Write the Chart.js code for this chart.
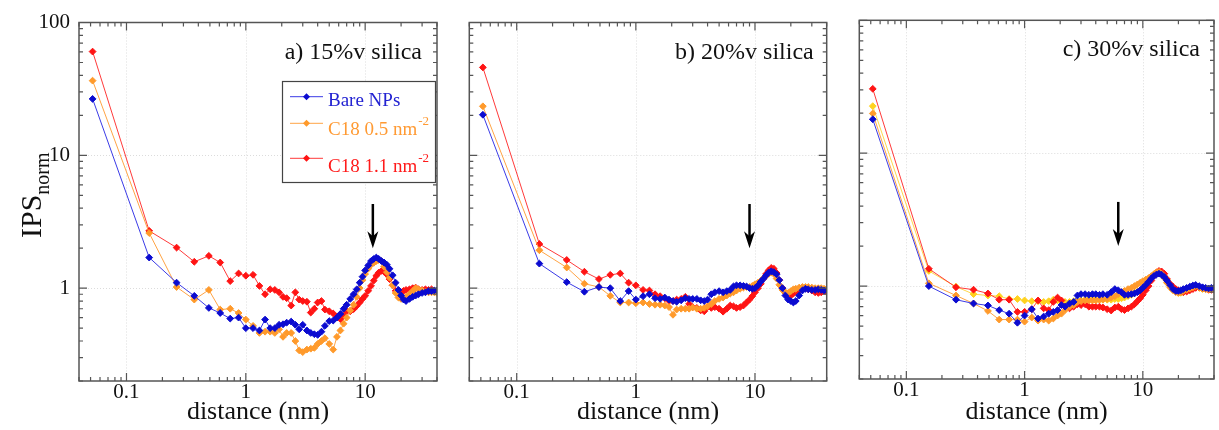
<!DOCTYPE html>
<html>
<head>
<meta charset="utf-8">
<script src="https://cdn.jsdelivr.net/npm/chart.js@4.4.1/dist/chart.umd.min.js"></script>
<style>
  html, body { margin: 0; padding: 0; background: #fff; }
  #wrap { position: relative; width: 1219px; height: 430px; overflow: hidden; }
  canvas { position: absolute; top: 0; }
</style>
</head>
<body>
<div id="wrap">
  <canvas id="panelA" width="445" height="430" style="left:0px"></canvas>
  <canvas id="panelB" width="390" height="430" style="left:445px"></canvas>
  <canvas id="panelC" width="384" height="430" style="left:835px"></canvas>
</div>
<script>
// distance grid (nm), shared by every series
const distance = [0.052, 0.155, 0.263, 0.37, 0.49, 0.61, 0.74, 0.87,
  1.0, 1.15, 1.3, 1.45, 1.6, 1.75, 1.9,
  2.05, 2.2, 2.4, 2.6, 2.8,
  3.0, 3.25, 3.5, 3.75,
  4.0, 4.3, 4.6,
  5.0, 5.4, 5.8,
  6.2, 6.6, 7.0, 7.5,
  8.0, 8.5, 9.0, 9.5,
  10, 10.6, 11.2, 11.8, 12.4, 13, 13.7, 14.4, 15.2,
  16, 17, 18, 19, 20, 21, 22,
  23.5, 25, 26.5, 28,
  30, 32, 34, 36, 38, 40];

// a) 15%v silica
const aBare = [26.6, 1.70, 1.10, 0.875, 0.71, 0.65, 0.59, 0.60,
  0.50, 0.50, 0.48, 0.58, 0.50, 0.50, 0.53,
  0.535, 0.55, 0.56, 0.53, 0.49,
  0.53, 0.48, 0.46, 0.45,
  0.445, 0.47, 0.52,
  0.565, 0.57, 0.60,
  0.64, 0.70, 0.75, 0.83,
  0.90, 0.98, 1.10, 1.22,
  1.36, 1.48, 1.60, 1.66, 1.70, 1.66, 1.60, 1.56, 1.50,
  1.40, 1.25, 1.10, 0.97, 0.88, 0.82, 0.80,
  0.83, 0.86, 0.88, 0.90,
  0.92, 0.93, 0.95, 0.95, 0.96, 0.96];
const aC18low = [36.5, 2.60, 1.02, 0.82, 0.97, 0.69, 0.70, 0.65,
  0.58, 0.52, 0.46, 0.47, 0.47, 0.46, 0.49,
  0.43, 0.46, 0.46, 0.40, 0.34,
  0.33, 0.345, 0.35, 0.355,
  0.38, 0.40, 0.42,
  0.38, 0.345, 0.43,
  0.48, 0.54, 0.60, 0.68,
  0.75, 0.86, 1.0, 1.15,
  1.28, 1.40, 1.50, 1.55, 1.60, 1.63, 1.60, 1.45, 1.32,
  1.20, 1.05, 0.92, 0.85, 0.83, 0.84, 0.86,
  0.90, 0.95, 1.0, 0.98,
  0.96, 0.94, 0.93, 0.93, 0.93, 0.92];
const aC18high = [60.4, 2.70, 2.02, 1.58, 1.75, 1.56, 1.13, 1.29,
  1.24, 1.26, 1.04, 0.90, 0.98, 0.97, 0.93,
  0.86, 0.84, 0.74, 0.93, 0.82,
  0.80, 0.79, 0.655, 0.70,
  0.78, 0.80, 0.69,
  0.67, 0.645, 0.61,
  0.585, 0.62, 0.67, 0.67,
  0.695, 0.735, 0.78, 0.83,
  0.875, 0.955, 1.04, 1.14, 1.24, 1.31, 1.35, 1.33, 1.27,
  1.17, 1.05, 0.955, 0.93, 0.93, 0.955, 0.97,
  0.98, 1.0, 1.01, 0.98,
  0.97, 0.98, 0.97, 0.98, 0.955, 0.94];

// b) 20%v silica
const bBare = [20.2, 1.53, 1.11, 0.94, 1.02, 1.0, 0.80, 0.95,
  0.82, 0.87, 0.90, 0.84, 0.83, 0.85, 0.82,
  0.80, 0.79, 0.81, 0.84, 0.83,
  0.83, 0.83, 0.81, 0.80,
  0.82, 0.90, 0.93,
  0.95, 0.93, 0.95,
  0.97, 1.03, 1.05, 1.05,
  1.04, 1.03, 1.0, 0.99,
  1.0, 1.05, 1.12, 1.18, 1.25, 1.31, 1.34, 1.32, 1.27,
  1.15, 1.0, 0.88, 0.82, 0.80, 0.78, 0.80,
  0.88, 0.96, 0.99, 0.98,
  0.97, 0.97, 0.98, 0.97, 0.96, 0.96];
const bC18low = [23.4, 1.93, 1.43, 1.08, 1.02, 0.875, 0.78, 0.78,
  0.77, 0.78, 0.76, 0.75, 0.75, 0.74, 0.72,
  0.63, 0.69, 0.70, 0.70, 0.70,
  0.715, 0.70, 0.70, 0.71,
  0.73, 0.76, 0.80,
  0.83, 0.85, 0.88,
  0.91, 0.93, 0.96, 0.99,
  1.01, 1.02, 1.02, 1.04,
  1.07, 1.10, 1.14, 1.19, 1.24, 1.28, 1.31, 1.28, 1.18,
  1.06, 0.97, 0.93, 0.92, 0.95, 0.98, 0.99,
  1.01, 1.02, 1.02, 1.02,
  1.01, 1.0, 1.0, 1.0, 0.99, 0.99];
const bC18high = [45.9, 2.15, 1.63, 1.33, 1.17, 1.26, 1.29, 1.10,
  1.05, 0.97, 0.96, 0.90, 0.87, 0.84, 0.80,
  0.80, 0.82, 0.83, 0.86, 0.76,
  0.72, 0.71, 0.68, 0.67,
  0.72, 0.71, 0.72,
  0.70, 0.665, 0.70,
  0.74, 0.73, 0.71, 0.72,
  0.74, 0.78, 0.82, 0.87,
  0.93, 1.0, 1.08, 1.18, 1.28, 1.36, 1.42, 1.40, 1.30,
  1.15, 1.0, 0.92, 0.88, 0.88, 0.91, 0.94,
  0.96, 0.99, 1.0, 0.98,
  0.96, 0.93, 0.92, 0.93, 0.95, 0.94];

// c) 30%v silica
const cBare = [18.0, 1.0, 0.79, 0.74, 0.715, 0.66, 0.62, 0.53,
  0.60, 0.67, 0.57, 0.59, 0.62, 0.64, 0.66,
  0.72, 0.70, 0.74, 0.76, 0.85,
  0.87, 0.87, 0.86, 0.87,
  0.87, 0.86, 0.87,
  0.86, 0.90, 0.95,
  0.93, 0.90, 0.86, 0.86,
  0.87, 0.88, 0.90, 0.93,
  0.97, 1.02, 1.08, 1.14, 1.19, 1.22, 1.24, 1.22, 1.17,
  1.10, 1.02, 0.95, 0.92, 0.92, 0.93, 0.95,
  0.97, 0.99, 1.01, 1.02,
  1.0, 0.98, 0.97, 0.96, 0.97, 0.97];
const cC18low = [19.9, 1.05, 0.85, 0.74, 0.65, 0.56, 0.56, 0.56,
  0.54, 0.58, 0.55, 0.56, 0.55, 0.57, 0.60,
  0.62, 0.66, 0.70, 0.72, 0.76,
  0.77, 0.78, 0.78, 0.78,
  0.78, 0.79, 0.79,
  0.80, 0.82, 0.84,
  0.87, 0.90, 0.92, 0.95,
  0.97, 1.0, 1.03, 1.06,
  1.09, 1.12, 1.15, 1.19, 1.23, 1.27, 1.28, 1.24, 1.15,
  1.06, 0.98, 0.93, 0.90, 0.89, 0.90, 0.92,
  0.94, 0.96, 0.98, 1.0,
  0.98, 0.96, 0.95, 0.95, 0.95, 0.94];
const cC18high = [30.5, 1.35, 0.98, 0.94, 0.88, 0.79, 0.79, 0.64,
  0.64, 0.67, 0.78, 0.68, 0.66, 0.76, 0.82,
  0.78, 0.70, 0.68, 0.70, 0.73,
  0.72, 0.73, 0.70, 0.70,
  0.70, 0.70, 0.69,
  0.67, 0.655, 0.69,
  0.70, 0.67, 0.66, 0.68,
  0.70, 0.73, 0.77, 0.81,
  0.86, 0.93, 1.0, 1.10, 1.19, 1.26, 1.30, 1.29, 1.24,
  1.13, 1.04, 0.99, 0.95, 0.93, 0.91, 0.90,
  0.91, 0.93, 0.95, 0.97,
  0.98, 0.96, 0.955, 0.94, 0.94, 0.94];
const cExtra = [22.6, 1.30, 0.99, 0.87, 0.85, 0.84, 0.80, 0.80,
  0.78, 0.77, 0.77, 0.76, 0.77, 0.79, 0.78,
  0.77, 0.76, 0.76, 0.77, 0.77,
  0.78, 0.79, 0.79, 0.79,
  0.79, 0.79, 0.79,
  0.79, 0.79, 0.80,
  0.80, 0.81, 0.82, 0.84,
  0.86, 0.89, 0.91, 0.93,
  0.95, 1.0, 1.07, 1.14, 1.21, 1.25, 1.27, 1.25, 1.19,
  1.11, 1.03, 0.95, 0.91, 0.89, 0.89, 0.90,
  0.93, 0.96, 0.98, 0.99,
  0.97, 0.95, 0.95, 0.94, 0.95, 0.955];

const panelTitles = ["a) 15%v silica", "b) 20%v silica", "c) 30%v silica"];
const legendNames = ["Bare NPs", "C18 0.5 nm", "C18 1.1 nm"];
const legendSup = ["", "-2", "-2"];
const xTickLabels = [0.1, 1, 10];
const xMinorTicks = [0.04, 0.05, 0.06, 0.07, 0.08, 0.09, 0.2, 0.3, 0.4, 0.5, 0.6, 0.7, 0.8, 0.9,
  2, 3, 4, 5, 6, 7, 8, 9, 20, 30, 40];
const yTickLabels = [1, 10, 100];
const yMinorTicks = [0.2, 0.3, 0.4, 0.5, 0.6, 0.7, 0.8, 0.9, 2, 3, 4, 5, 6, 7, 8, 9,
  20, 30, 40, 50, 60, 70, 80, 90];
const arrowAt = [11.6, 9.0, 6.2];   // x of the arrow in each panel
const arrowFrom = 4.3, arrowTo = 2.0;

const SERIF = '"Liberation Serif", "Times New Roman", serif';
const COLORS = {
  blue: { line: "#3b3be6", marker: "#0b0bd0", text: "#2323d2" },
  orange: { line: "#ffa445", marker: "#ff9a2b", text: "#ff9a33" },
  red: { line: "#ff3a3a", marker: "#ff1414", text: "#ff1a1a" },
  yellow: { line: "#ffd84d", marker: "#ffd21f", text: "#ffd21f" },
};

function makeDataset(values, c) {
  return {
    data: distance.map((d, i) => ({ x: d, y: values[i] })),
    borderColor: c.line,
    backgroundColor: c.marker,
    pointBackgroundColor: c.marker,
    pointBorderColor: c.marker,
    borderWidth: 1,
    pointStyle: "rectRot",
    pointRadius: 3.4,
    pointBorderWidth: 1,
    tension: 0,
  };
}

function decorPlugin(cfg) {
  return {
    id: "decor" + cfg.index,
    beforeDatasetsDraw(chart) {
      const { ctx, chartArea: ca, scales: { x, y } } = chart;
      ctx.save();
      ctx.strokeStyle = "#dcdcdc";
      ctx.lineWidth = 1;
      ctx.setLineDash([1, 2]);
      xTickLabels.forEach((v) => {
        const px = Math.round(x.getPixelForValue(v)) + 0.5;
        ctx.beginPath(); ctx.moveTo(px, ca.top); ctx.lineTo(px, ca.bottom); ctx.stroke();
      });
      [1, 10].forEach((v) => {
        const py = Math.round(y.getPixelForValue(v)) + 0.5;
        ctx.beginPath(); ctx.moveTo(ca.left, py); ctx.lineTo(ca.right, py); ctx.stroke();
      });
      ctx.restore();
    },
    afterDatasetsDraw(chart) {
      const { ctx, chartArea: ca, scales: { x, y } } = chart;
      ctx.save();
      // frame
      ctx.strokeStyle = "#555";
      ctx.lineWidth = 1.5;
      ctx.strokeRect(ca.left, ca.top, ca.right - ca.left, ca.bottom - ca.top);
      // inward ticks on all four sides
      ctx.lineWidth = 1.2;
      const xt = (v, len) => {
        const px = x.getPixelForValue(v);
        ctx.beginPath();
        ctx.moveTo(px, ca.bottom); ctx.lineTo(px, ca.bottom - len);
        ctx.moveTo(px, ca.top); ctx.lineTo(px, ca.top + len);
        ctx.stroke();
      };
      const yt = (v, len) => {
        const py = y.getPixelForValue(v);
        ctx.beginPath();
        ctx.moveTo(ca.left, py); ctx.lineTo(ca.left + len, py);
        ctx.moveTo(ca.right, py); ctx.lineTo(ca.right - len, py);
        ctx.stroke();
      };
      xTickLabels.forEach((v) => xt(v, 8));
      xMinorTicks.forEach((v) => xt(v, 4));
      yTickLabels.forEach((v) => yt(v, 8));
      yMinorTicks.forEach((v) => yt(v, 4));

      // arrow
      const ax = x.getPixelForValue(arrowAt[cfg.index]);
      const ay0 = y.getPixelForValue(arrowFrom);
      const ay1 = y.getPixelForValue(arrowTo);
      ctx.strokeStyle = "#000";
      ctx.fillStyle = "#000";
      ctx.lineWidth = 2.5;
      ctx.beginPath(); ctx.moveTo(ax, ay0); ctx.lineTo(ax, ay1 - 8); ctx.stroke();
      ctx.beginPath();
      ctx.moveTo(ax, ay1);
      ctx.lineTo(ax - 5.5, ay1 - 17);
      ctx.lineTo(ax, ay1 - 12);
      ctx.lineTo(ax + 5.5, ay1 - 17);
      ctx.closePath();
      ctx.fill();

      // panel title
      ctx.fillStyle = "#111";
      ctx.font = "24px " + SERIF;
      ctx.textAlign = "right";
      ctx.textBaseline = "alphabetic";
      ctx.fillText(panelTitles[cfg.index], ca.right - cfg.titleInset, ca.top + 36);

      // x axis title
      ctx.textAlign = "center";
      ctx.font = "26px " + SERIF;
      ctx.fillText("distance (nm)", (ca.left + ca.right) / 2, 419);

      if (cfg.index === 0) {
        // y axis title IPS_norm
        ctx.save();
        ctx.translate(41, 238);
        ctx.rotate(-Math.PI / 2);
        ctx.textAlign = "left";
        ctx.font = "30px " + SERIF;
        ctx.fillText("IPS", 0, 0);
        const w = ctx.measureText("IPS").width;
        ctx.font = "20px " + SERIF;
        ctx.fillText("norm", w, 8);
        ctx.restore();

        // legend
        const bx = 282.5, by = 81.5, bw = 153, bh = 101;
        ctx.fillStyle = "#fff";
        ctx.fillRect(bx, by, bw, bh);
        ctx.strokeStyle = "#444";
        ctx.lineWidth = 1.2;
        ctx.strokeRect(bx, by, bw, bh);
        const lineY = [96.7, 123.3, 158.3];
        const textY = [105.5, 135, 171.5];
        chart.data.datasets.forEach((ds, i) => {
          ctx.strokeStyle = ds.borderColor;
          ctx.lineWidth = 1;
          ctx.beginPath(); ctx.moveTo(290, lineY[i]); ctx.lineTo(323, lineY[i]); ctx.stroke();
          ctx.fillStyle = ds.pointBackgroundColor;
          ctx.beginPath();
          ctx.moveTo(306.5, lineY[i] - 3.5); ctx.lineTo(310, lineY[i]);
          ctx.lineTo(306.5, lineY[i] + 3.5); ctx.lineTo(303, lineY[i]);
          ctx.closePath(); ctx.fill();
          ctx.fillStyle = cfg.legendText[i];
          ctx.font = "19px " + SERIF;
          ctx.textAlign = "left";
          ctx.fillText(legendNames[i], 328, textY[i]);
          if (legendSup[i]) {
            const tw = ctx.measureText(legendNames[i]).width;
            ctx.font = "13px " + SERIF;
            ctx.fillText(legendSup[i], 328 + tw + 1, textY[i] - 10);
          }
        });
      }
      ctx.restore();
    },
  };
}

function makePanel(canvasId, datasets, cfg) {
  return new Chart(document.getElementById(canvasId), {
    type: "line",
    data: { datasets },
    options: {
      responsive: false,
      animation: false,
      devicePixelRatio: 1,
      layout: { padding: { top: cfg.top, right: cfg.right, left: 0, bottom: 0 } },
      plugins: { legend: { display: false }, tooltip: { enabled: false } },
      scales: {
        x: {
          type: "logarithmic",
          min: 0.04,
          max: 40,
          afterBuildTicks: (s) => { s.ticks = xTickLabels.map((v) => ({ value: v })); },
          afterFit: (s) => { s.height = cfg.xHeight; },
          ticks: {
            autoSkip: false, maxRotation: 0, padding: 1, color: "#111",
            font: { family: SERIF, size: 21, lineHeight: 1 },
            callback: (v) => String(v),
          },
          grid: { display: false, drawTicks: false },
          border: { display: false },
        },
        y: {
          type: "logarithmic",
          min: 0.2,
          max: 100,
          afterBuildTicks: (s) => { s.ticks = yTickLabels.map((v) => ({ value: v })); },
          afterFit: (s) => { s.width = cfg.yWidth; },
          ticks: {
            display: cfg.index === 0, padding: 9, color: "#111",
            font: { family: SERIF, size: 21, lineHeight: 1 },
            callback: (v) => String(v),
          },
          grid: { display: false, drawTicks: false },
          border: { display: false },
        },
      },
    },
    plugins: [decorPlugin(cfg)],
  });
}

makePanel("panelA", [
  makeDataset(aBare, COLORS.blue),
  makeDataset(aC18low, COLORS.orange),
  makeDataset(aC18high, COLORS.red),
], { index: 0, top: 22.5, right: 8, yWidth: 79, xHeight: 49, titleInset: 15,
     legendText: [COLORS.blue.text, COLORS.orange.text, COLORS.red.text] });

makePanel("panelB", [
  makeDataset(bBare, COLORS.blue),
  makeDataset(bC18low, COLORS.orange),
  makeDataset(bC18high, COLORS.red),
], { index: 1, top: 22.5, right: 8.3, yWidth: 24.3, xHeight: 49, titleInset: 13 });

makePanel("panelC", [
  makeDataset(cBare, COLORS.blue),
  makeDataset(cC18low, COLORS.orange),
  makeDataset(cC18high, COLORS.red),
  makeDataset(cExtra, COLORS.yellow),
], { index: 2, top: 20.3, right: 1.7, yWidth: 24.3, xHeight: 51, titleInset: 14 });
</script>
</body>
</html>
